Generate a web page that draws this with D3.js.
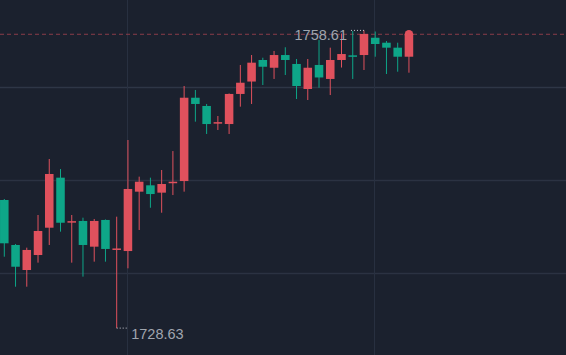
<!DOCTYPE html>
<html>
<head>
<meta charset="utf-8">
<script src="https://cdn.jsdelivr.net/npm/d3@7"></script>
<style>
    html, body { margin: 0; padding: 0; background: #1b212e; overflow: hidden; }
    svg { display: block; }
</style>
</head>
<body>
<div id="draw-area"></div>
<script>
// K線資料
var opens  = [1741.53, 1737.00, 1734.48, 1735.99, 1738.74, 1743.78, 1739.29, 1739.42, 1736.83, 1739.52,
              1736.55, 1736.39, 1742.37, 1743.01, 1742.27, 1743.24, 1743.44, 1751.83, 1751.00, 1749.26,
              1749.18, 1752.21, 1753.46, 1755.63, 1754.85, 1756.13, 1755.23, 1752.71, 1755.13, 1753.72,
              1755.63, 1756.10, 1756.13, 1757.87, 1757.37, 1756.87, 1755.96];
var highs  = [1741.63, 1737.10, 1736.73, 1740.02, 1745.66, 1744.65, 1740.02, 1739.75, 1739.62, 1739.57,
              1739.85, 1747.57, 1743.88, 1743.78, 1744.55, 1746.46, 1753.01, 1752.61, 1751.20, 1749.99,
              1752.26, 1755.13, 1756.13, 1755.86, 1756.54, 1756.91, 1755.73, 1755.73, 1757.64, 1756.87,
              1758.30, 1758.55, 1758.61, 1758.50, 1757.54, 1757.37, 1758.30];
var lows   = [1735.82, 1732.80, 1732.80, 1735.22, 1737.00, 1738.34, 1735.22, 1733.81, 1735.32, 1735.32,
              1728.63, 1734.65, 1738.51, 1740.75, 1740.25, 1742.03, 1742.37, 1749.42, 1748.18, 1748.58,
              1748.18, 1750.93, 1751.20, 1753.11, 1753.72, 1754.12, 1751.70, 1751.60, 1752.84, 1752.10,
              1754.87, 1753.72, 1754.62, 1755.96, 1754.22, 1754.45, 1754.35];
var closes = [1737.17, 1734.81, 1736.50, 1738.41, 1744.15, 1739.24, 1739.40, 1737.00, 1739.42, 1736.60,
              1736.65, 1742.64, 1743.37, 1742.13, 1743.14, 1743.37, 1751.83, 1751.20, 1749.18, 1749.37,
              1752.21, 1753.34, 1755.36, 1754.95, 1756.13, 1755.63, 1753.01, 1754.85, 1753.87, 1755.63,
              1756.23, 1756.00, 1758.25, 1757.24, 1756.87, 1755.96, 1758.22];
var gridPrices = [1752.88, 1743.54, 1734.15];   // 水平格線
var gridCandles = [11, 33];                      // 垂直格線所在K線
var slots = 50;                                   // 畫面可容納K線數

(function () {
    let width = 566, height = 355;
    let upColor = '#e0515d', downColor = '#0ea688';
    let font = '"Helvetica Neue", Arial, "Liberation Sans", sans-serif';

    let data = opens.map((o, i) => ({ i: i, o: o, h: highs[i], l: lows[i], c: closes[i] }));
    let lastPrice = closes[closes.length - 1];
    let maxHigh = d3.max(highs), minLow = d3.min(lows);
    let maxIdx = highs.indexOf(maxHigh), minIdx = lows.indexOf(minLow);

    let svg = d3.select('#draw-area').append('svg')
        .attr('width', width)
        .attr('height', height);

    svg.append('rect').attr('width', width).attr('height', height).attr('fill', '#1b212e');

    var x = d3.scaleBand()
        .domain(d3.range(slots))
        .range([-1.32, -1.32 + slots * 11.24])
        .paddingInner(0.24)
        .paddingOuter(0.12);
    var y = d3.scaleLinear().domain([minLow, maxHigh]).range([328.1, 30.4]);
    let cx = i => x(i) + x.bandwidth() / 2;

    //格線
    svg.append('g').selectAll('line')
        .data(gridPrices)
        .enter().append('line')
        .attr('x1', 0).attr('x2', width)
        .attr('y1', d => Math.round(y(d)) + 0.5)
        .attr('y2', d => Math.round(y(d)) + 0.5)
        .attr('stroke', (d, i) => i == 0 ? '#2e3646' : '#2b3242')
        .attr('stroke-width', 1.5);
    svg.append('g').selectAll('line')
        .data(gridCandles)
        .enter().append('line')
        .attr('x1', d => Math.round(cx(d)) - 0.5)
        .attr('x2', d => Math.round(cx(d)) - 0.5)
        .attr('y1', 0).attr('y2', height)
        .attr('stroke', '#283040')
        .attr('stroke-width', 1);

    //最新價虛線
    svg.append('line')
        .attr('x1', 0).attr('x2', width)
        .attr('y1', y(lastPrice)).attr('y2', y(lastPrice))
        .attr('stroke', '#8a3c49')
        .attr('stroke-width', 1)
        .attr('stroke-dasharray', '4,3');

    //K線
    var candles = svg.append('g').selectAll('g.candle')
        .data(data)
        .enter().append('g')
        .attr('class', 'candle');
    candles.append('line')
        .attr('x1', d => cx(d.i)).attr('x2', d => cx(d.i))
        .attr('y1', d => y(d.h)).attr('y2', d => y(d.l))
        .attr('stroke', d => d.c >= d.o ? upColor : downColor)
        .attr('stroke-width', 1);
    candles.append('rect')
        .attr('x', d => x(d.i))
        .attr('width', x.bandwidth())
        .attr('y', d => y(Math.max(d.o, d.c)))
        .attr('height', d => Math.max(1.5, Math.abs(y(d.o) - y(d.c))))
        .attr('fill', d => d.c >= d.o ? upColor : downColor);

    //最後一根的圓點
    let last = data[data.length - 1];
    svg.append('circle')
        .attr('cx', cx(last.i))
        .attr('cy', y(lastPrice))
        .attr('r', x.bandwidth() / 2)
        .attr('fill', upColor);

    //最高/最低價標記
    svg.append('line')
        .attr('x1', cx(maxIdx)).attr('x2', cx(maxIdx) - 13)
        .attr('y1', y(maxHigh)).attr('y2', y(maxHigh))
        .attr('stroke', '#c9ccd2').attr('stroke-dasharray', '1,2');
    svg.append('text')
        .attr('x', cx(maxIdx) - 17)
        .attr('y', y(maxHigh) + 10)
        .attr('text-anchor', 'end')
        .attr('font-family', font)
        .attr('font-size', 14.5)
        .attr('fill', '#a0a5ae')
        .text(maxHigh.toFixed(2));

    svg.append('line')
        .attr('x1', cx(minIdx)).attr('x2', cx(minIdx) + 12)
        .attr('y1', y(minLow)).attr('y2', y(minLow))
        .attr('stroke', '#c9ccd2').attr('stroke-dasharray', '1,2');
    svg.append('text')
        .attr('x', cx(minIdx) + 14.5)
        .attr('y', y(minLow) + 10.4)
        .attr('text-anchor', 'start')
        .attr('font-family', font)
        .attr('font-size', 14.5)
        .attr('fill', '#a0a5ae')
        .text(minLow.toFixed(2));
})();
</script>
</body>
</html>
